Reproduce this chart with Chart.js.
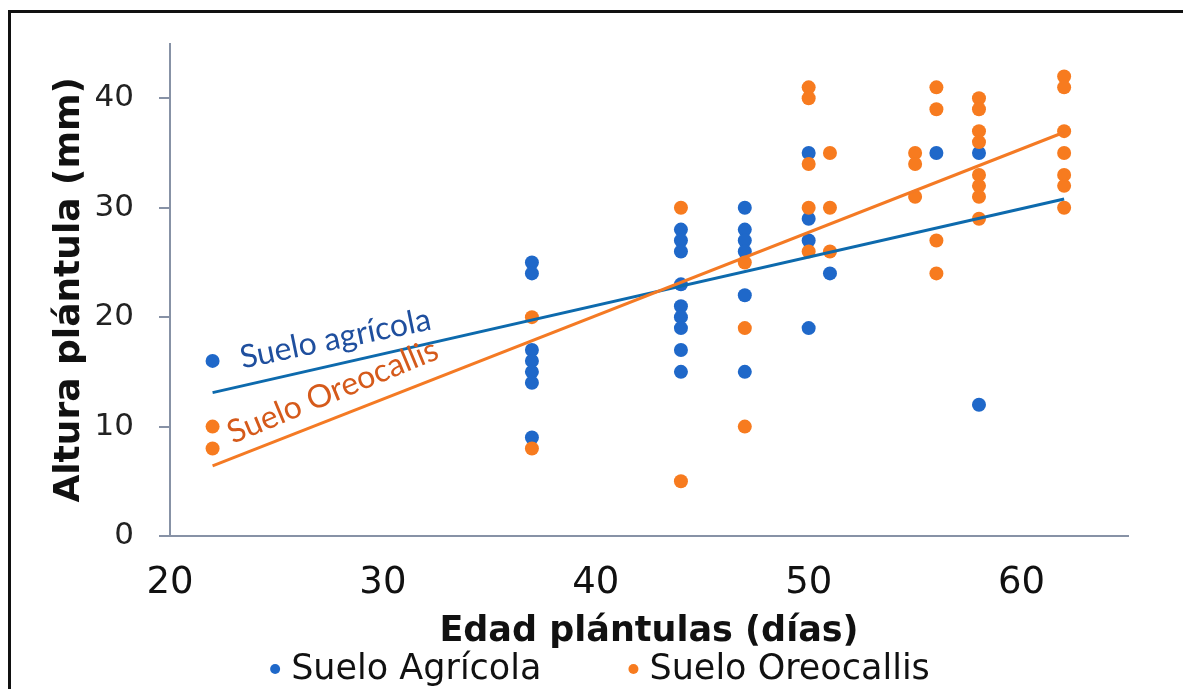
<!DOCTYPE html>
<html lang="es">
<head>
<meta charset="utf-8">
<title>Altura de plántulas según edad</title>
<script src="https://cdn.jsdelivr.net/npm/chart.js@4.4.1/dist/chart.umd.min.js"></script>
<style>
  html, body { margin: 0; padding: 0; background: #fff; }
  #wrap { position: relative; width: 1183px; height: 689px; overflow: hidden; }
  #frame {
    position: absolute; left: 8px; top: 10px; width: 1200px; height: 700px;
    border-left: 3px solid #111; border-top: 3px solid #111; pointer-events: none;
  }
</style>
</head>
<body>
<div id="wrap">
  <canvas id="chart"></canvas>
  <div id="frame"></div>
</div>
<script>
// Edad (días) y altura (mm) de cada plántula, por tipo de suelo
const agricolaDias = [22, 37, 37, 37, 37, 37, 37, 37, 44, 44, 44, 44, 44, 44, 44, 44, 44,
  47, 47, 47, 47, 47, 47, 50, 50, 50, 50, 51, 56, 58, 58];
const agricolaAltura = [16, 25, 24, 17, 16, 15, 14, 9, 28, 27, 26, 23, 21, 20, 19, 17, 15,
  30, 28, 27, 26, 22, 15, 35, 29, 27, 19, 24, 35, 35, 12];

const oreoDias = [22, 22, 37, 37, 44, 44, 47, 47, 47, 50, 50, 50, 50, 50, 51, 51, 51,
  55, 55, 55, 56, 56, 56, 56, 58, 58, 58, 58, 58, 58, 58, 58, 62, 62, 62, 62, 62, 62, 62];
const oreoAltura = [10, 8, 20, 8, 30, 5, 25, 19, 10, 41, 40, 34, 30, 26, 35, 30, 26,
  35, 34, 31, 41, 39, 27, 24, 40, 39, 37, 36, 33, 32, 31, 29, 42, 41, 37, 35, 33, 32, 30];

// Rectas de tendencia (extremos)
const trendDias = [22, 62];
const agricolaTrend = [13.1, 30.8];
const oreoTrend = [6.4, 36.9];

const seriesNames = ['Suelo Agrícola', 'Suelo Oreocallis'];
const trendNames = ['Suelo agrícola', 'Suelo Oreocallis'];

const BLUE = '#1f68c9';
const ORANGE = '#f77b1f';
const BLUE_LINE = '#0d6aad';
const ORANGE_LINE = '#f47a24';
const AXIS = '#8792a6';

const SANS = '"DejaVu Sans", Verdana, sans-serif';

const toPoints = (xs, ys) => xs.map((x, i) => ({ x, y: ys[i] }));

// Etiquetas giradas junto a cada recta de tendencia
const trendLabelPlugin = {
  id: 'trendLabels',
  afterDatasetsDraw(chart, args, opts) {
    const { ctx, scales: { x, y } } = chart;
    opts.items.forEach(item => {
      const ds = chart.data.datasets[item.dataset].data;
      const x0 = x.getPixelForValue(ds[0].x), y0 = y.getPixelForValue(ds[0].y);
      const x1 = x.getPixelForValue(ds[1].x), y1 = y.getPixelForValue(ds[1].y);
      const angle = Math.atan2(y1 - y0, x1 - x0) + item.tilt;
      ctx.save();
      ctx.translate(x.getPixelForValue(item.at[0]), y.getPixelForValue(item.at[1]));
      ctx.rotate(angle);
      ctx.font = opts.font;
      ctx.fillStyle = item.color;
      ctx.textAlign = 'left';
      ctx.textBaseline = 'alphabetic';
      ctx.fillText(item.text, 0, 0);
      ctx.restore();
    });
  }
};

// Leyenda inferior con los puntos de cada serie
const bottomLegendPlugin = {
  id: 'bottomLegend',
  afterDraw(chart, args, opts) {
    const { ctx } = chart;
    const items = opts.datasets.map(i => chart.data.datasets[i]);
    ctx.save();
    ctx.font = opts.font;
    const widths = items.map(d => opts.dotGap + ctx.measureText(d.label).width);
    const total = widths.reduce((a, b) => a + b, 0) + opts.itemGap * (items.length - 1);
    let cx = opts.centerX - total / 2;
    items.forEach((d, i) => {
      ctx.fillStyle = d.backgroundColor;
      ctx.beginPath();
      ctx.arc(cx + opts.radius, opts.y, opts.radius, 0, Math.PI * 2);
      ctx.fill();
      ctx.fillStyle = '#111';
      ctx.textAlign = 'left';
      ctx.textBaseline = 'middle';
      ctx.fillText(d.label, cx + opts.dotGap, opts.y + 1);
      cx += widths[i] + opts.itemGap;
    });
    ctx.restore();
  }
};

const chart = new Chart(document.getElementById('chart'), {
  type: 'scatter',
  data: {
    datasets: [
      {
        label: seriesNames[0],
        data: toPoints(agricolaDias, agricolaAltura),
        backgroundColor: BLUE,
        borderWidth: 0,
        pointRadius: 7,
        order: 3
      },
      {
        label: seriesNames[1],
        data: toPoints(oreoDias, oreoAltura),
        backgroundColor: ORANGE,
        borderWidth: 0,
        pointRadius: 7,
        order: 2
      },
      {
        label: trendNames[0],
        data: toPoints(trendDias, agricolaTrend),
        showLine: true,
        borderColor: BLUE_LINE,
        borderWidth: 3,
        pointRadius: 0,
        order: 1
      },
      {
        label: trendNames[1],
        data: toPoints(trendDias, oreoTrend),
        showLine: true,
        borderColor: ORANGE_LINE,
        borderWidth: 3,
        pointRadius: 0,
        order: 0
      }
    ]
  },
  options: {
    responsive: true,
    maintainAspectRatio: false,
    animation: false,
    layout: { padding: { left: 48, top: 39, right: 55, bottom: 36 } },
    plugins: {
      legend: { display: false },
      tooltip: { enabled: false },
      trendLabels: {
        font: '32px Lato, "Open Sans", sans-serif',
        items: [
          { dataset: 2, text: trendNames[0], at: [23.4, 15.3], tilt: 0.02, color: '#1f4f9e' },
          { dataset: 3, text: trendNames[1], at: [22.95, 8.4], tilt: -0.02, color: '#d55a1b' }
        ]
      },
      bottomLegend: {
        datasets: [0, 1],
        font: '35px ' + SANS,
        y: 669,
        centerX: 600,
        radius: 5,
        dotGap: 21,
        itemGap: 87
      }
    },
    scales: {
      x: {
        type: 'linear',
        min: 20,
        max: 65,
        afterFit(scale) { scale.height = 117; },
        ticks: {
          stepSize: 10,
          includeBounds: false,
          padding: 25,
          color: '#111',
          font: { family: SANS, size: 37 }
        },
        grid: { display: false, drawTicks: false },
        border: { color: AXIS, width: 2 },
        title: {
          display: true,
          text: 'Edad plántulas (días)',
          color: '#111',
          padding: 0,
          font: { family: SANS, size: 35, weight: 'bold' }
        }
      },
      y: {
        type: 'linear',
        min: 0,
        max: 45,
        afterFit(scale) { scale.width = 122; },
        ticks: {
          stepSize: 10,
          includeBounds: false,
          padding: 25,
          color: '#222',
          font: { family: SANS, size: 31 }
        },
        grid: {
          drawOnChartArea: false,
          drawTicks: true,
          tickLength: 11,
          color: AXIS,
          lineWidth: 2
        },
        border: { color: AXIS, width: 2 },
        title: {
          display: true,
          text: 'Altura plántula (mm)',
          color: '#111',
          padding: 0,
          font: { family: SANS, size: 36, weight: 'bold' }
        }
      }
    }
  },
  plugins: [trendLabelPlugin, bottomLegendPlugin]
});
</script>
</body>
</html>
